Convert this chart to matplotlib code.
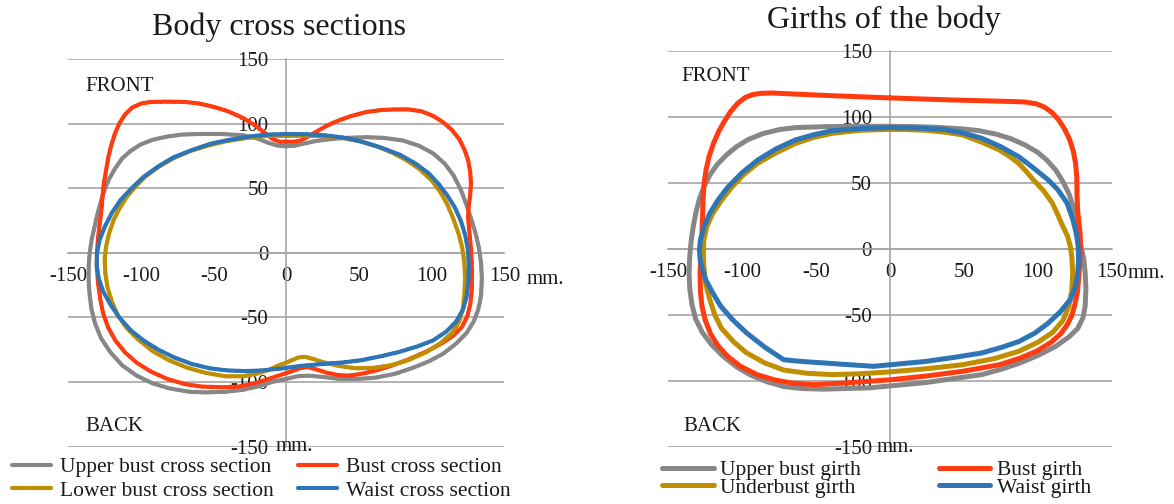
import matplotlib.pyplot as plt

plt.rcParams['font.family'] = ['Liberation Serif', 'DejaVu Serif']
plt.rcParams['axes.unicode_minus'] = False

# ---- left chart: body cross sections (mm), traced counter-clockwise from the front centre ----
upper_cs_x = [0, -6, -12, -20, -30, -45, -60, -72, -82, -92, -100, -107, -113, -118, -122, -125, -127.5,
              -130, -132, -134, -135.3, -136, -136, -135.3, -134, -131.5, -127.5, -121, -113, -103, -92,
              -80, -67, -55, -42, -30, -20, -10, 0, 8, 15, 25, 36, 50, 62, 75, 87, 98, 108, 117, 124,
              129, 132, 134, 134.5, 134, 132.5, 130, 127, 124, 120, 115, 109, 101, 91, 80, 67, 55, 42,
              30, 20, 12, 6, 0]
upper_cs_y = [82.5, 83, 85, 88.5, 91, 92, 92, 91.5, 90, 87.5, 84, 79, 73, 65, 57, 49, 40,
              30, 20, 10, 0, -10, -22, -33, -44, -55, -66, -77, -87, -95, -101,
              -105, -107.5, -108, -107.5, -106, -103.5, -100, -97.5, -95.5, -95, -96, -97.5, -97.5, -96.5,
              -93.5, -89, -84, -78, -70, -62,
              -53, -44, -33, -20, -8, 4, 16, 27, 37, 49, 60, 69, 77, 83, 87, 89, 89.5, 89,
              88, 86.5, 84.5, 83, 82.5]

bust_cs_x = [0, -5, -10, -15, -22, -30, -40, -50, -60, -70, -82, -93, -100, -106, -111, -115, -118,
             -120.5, -122.5, -124, -125.5, -126.5, -127, -127.5, -128.5, -129.5, -130.3, -130.3, -129.5,
             -128, -126, -122.5, -117.5, -111, -103, -93, -82, -70, -58, -45, -33, -22, -12, -4, 4, 10,
             15, 20, 27, 35, 42, 50, 60, 72, 85, 97, 107, 115, 121, 124.5, 126.5, 127.5, 127.8, 127.5,
             126.8, 125.8, 125, 125.5, 126.5, 127, 126.5, 125, 122.5, 119, 114, 108, 101, 93, 84, 74,
             65, 55, 45, 36, 28, 21, 15, 10, 5, 0]
bust_cs_y = [86, 86, 88.5, 93, 99, 104.5, 109.5, 113, 115.6, 116.8, 117, 116.8, 115.5, 112.5, 107, 100, 92,
             83, 74, 64, 54, 44, 36, 30, 22, 12, 0, -12, -24,
             -36, -47, -58, -68, -77, -85, -92, -97.5, -101.5, -103.5, -104, -103.5, -101, -97.5, -94.5,
             -91.5, -89,
             -88.5, -90, -92.5, -94.5, -95, -94, -91.5, -87.5, -82, -76, -70, -64, -57, -49, -40, -30, -18,
             -6,
             6, 18, 28, 36, 45, 54, 63, 72, 80, 88, 95, 101, 106, 109.5, 111, 111,
             110.5, 109, 106, 102.5, 98.5, 94, 90, 87, 86, 86]

lower_cs_x = [0, -10, -20, -30, -41, -54, -67, -78, -88, -97, -104, -110, -115, -119, -122, -124, -125,
              -124.5, -123, -120, -116, -110, -102, -92, -81, -68, -55, -42, -30, -20, -12, -5, 2, 8,
              13, 18, 25, 36, 48, 60, 72, 84, 96, 106, 114, 119, 121.5, 122.5, 123, 122.5, 121, 118.5,
              115, 111, 106, 100, 92, 83, 73, 62, 50, 38, 25, 12, 0]
lower_cs_y = [90.6, 90.6, 90, 88.5, 86.5, 83, 78.5, 73, 66.5, 59, 51, 43, 34, 25, 15, 5, -5,
              -16, -27, -38, -48, -58, -67, -76, -83, -89, -93, -95.5, -95.5, -93.5, -90.5, -87, -84, -81,
              -80.5, -82, -84.5, -87.5, -89.3, -89, -87, -83, -77, -70, -62, -53, -43, -32, -20, -8, 4, 15,
              26, 37, 47, 56, 64.5, 71.5, 77.5, 82.5, 86.5, 89, 90.3, 90.6, 90.6]

waist_cs_x = [0, -13, -26, -39, -52, -65, -77.5, -88, -98, -106, -114, -120, -125, -128.5, -130.3,
              -130.5, -129, -126, -121, -115, -107, -98, -88, -77, -65, -52, -40, -28, -17, -5, 10, 25,
              40, 52, 65, 77.5, 90, 101, 110, 117, 121.5, 124, 125.3, 125.5, 125, 123, 120, 116, 111,
              105, 98, 89, 78, 65, 52, 39, 26, 13, 0]
waist_cs_y = [91.9, 91.5, 90, 87.5, 84.5, 79.5, 74, 67, 59, 50.5, 41, 31, 20, 10, 0,
              -10, -20, -30, -40, -50, -60, -68, -75, -81, -86, -89.5, -91, -91.5, -91, -89.7, -87.5, -86,
              -84.7, -83, -80, -76.7, -72.5, -67.7, -61, -53, -44, -34, -22, -10, 2, 14, 25, 35, 44,
              53, 61.5, 69, 76, 81.5, 86, 89.3, 91, 91.8, 91.9]

# ---- right chart: girths of the body (mm) ----
upper_g_x = [0, -26.5, -45, -64, -75, -86, -96, -104, -111, -117, -122, -126, -129, -131.3, -133,
             -134.5, -135.5, -136, -135.5, -134, -131.5, -127, -121, -113, -104, -94, -83, -72, -60, -45,
             -30, -14, 5, 24, 43, 62, 75, 87, 100, 112, 121, 127, 130.5, 132, 132.5, 132, 131, 129,
             127.5, 126, 124, 121, 117, 112, 106, 99.6, 91, 82, 72, 60, 49, 30, 15, 0]
upper_g_y = [93, 93, 92.7, 92, 90.5, 87.5, 83, 77.5, 71, 64, 56, 47, 38, 28, 18,
             7, -5, -18, -30, -42, -53, -63, -72, -81, -89, -95.5, -100.5, -104, -105.5, -106,
             -105.5, -105, -103, -101, -98, -95, -91, -86.5, -80.5, -73.6, -66.5, -60, -52, -43, -30, -18,
             -7, 3, 12, 22, 32, 42, 51, 60, 67.5, 73.5, 79, 83.5, 87, 89.7, 91, 92.3, 92.8, 93]

bust_g_x = [0, -40, -70, -80, -87, -93, -98, -103, -108, -112, -116, -119.5, -122.5, -124.5, -125.8,
            -126.5, -127, -127.5, -128, -128.6, -128.3, -127.3, -125, -121.5, -116.5, -110, -101.5, -90,
            -78, -67, -52, -30, -1, 25, 49, 74, 88, 99.6, 109, 115.5, 120, 123, 125, 126.8, 127.8,
            128.5, 128.8, 128.6, 127.8, 127, 126.5, 126.3, 125.5, 124, 121.5, 118, 114, 109.5, 104.5,
            99, 92, 84.5, 40, 0]
bust_g_y = [114.5, 116.2, 117.7, 118.2, 118, 117, 114.8, 110.5, 104, 97, 89, 80, 70, 60, 50,
            38, 20, 5, -5, -18, -32, -43, -54, -64, -73, -81, -88.5, -95,
            -99, -101.3, -102.6, -101.3, -99, -96, -92.5, -87.5, -82.5, -77, -70.5, -64, -57, -50, -42,
            -32, -20,
            -8, 3, 12, 20, 28, 40, 55, 65, 74, 83, 91, 98, 103.5, 107.5,
            110, 111.3, 111.7, 113, 114.5]

under_g_x = [0, -20, -39, -52, -64, -77, -89.5, -99, -107, -114, -120, -124, -126, -126.3, -126,
             -124.8, -122, -118.5, -114, -106, -97, -85, -72, -56, -39, -20, -1, 25, 49, 70, 87, 100,
             110, 117, 121, 123, 123.5, 123, 122, 120, 117, 113.5, 109.7, 104, 97, 92, 87, 80.5, 74,
             62, 49, 36, 24, 12, 0]
under_g_y = [90.7, 90, 87.7, 84.5, 80, 73, 65, 56.5, 47, 37, 27, 17, 7, -3, -13,
             -26, -38, -50, -60, -70, -78.6, -86, -91.5, -94, -95, -94.3, -93, -90.5, -87.5, -83, -77.4,
             -70.5, -63, -54, -43, -31, -18, -6, 2, 10, 17, 26, 35, 44, 52.4, 59, 65, 70.5, 75,
             81, 86.5, 88.7, 90, 90.5, 90.7]

waist_g_x = [0, -20, -39, -52, -64, -77, -89.5, -100, -109.7, -116.5, -122, -125.8, -128.3, -129,
             -128.5, -127, -124.8, -120, -114.7, -106.5, -97, -85, -72, -60, -46.6, -30, -11, 5, 24, 43,
             62, 75, 87, 98, 107, 115.5, 122, 125.5, 127, 127.5, 127.3, 126, 123.5, 119.7, 113.5, 107,
             97, 87, 75, 62, 49, 36.5, 18, 0]
waist_g_y = [92, 91.3, 89.7, 86.5, 82.7, 76, 67.5, 58, 47, 37, 27, 17, 7, -1,
             -8, -15, -23, -33, -43, -53.5, -63.5, -74, -83.7, -85, -86, -87.3, -88.7, -87, -85, -82,
             -78.6, -74.5, -70, -63.5, -56, -47, -38, -28, -18, -8, 2, 12, 23, 35, 45, 52.4,
             61.5, 70, 77.5, 84, 88, 90.7, 91.7, 92]

ticks = [-150, -100, -50, 0, 50, 100, 150]
colors = ['#878787', '#ff3b0f', '#bf8f00', '#2e75b6']
grid_c = '#a6a6a6'
txt_c = '#1a1a1a'

fig = plt.figure(figsize=(11.74, 5.04), dpi=100)
ax1 = fig.add_axes([0.0582, 0.1137, 0.3714, 0.7692])
ax2 = fig.add_axes([0.5693, 0.1125, 0.3777, 0.7863])


def style_axes(ax):
    ax.set_xlim(-150, 150)
    ax.set_ylim(-150, 150)
    ax.set_xticks(ticks)
    ax.set_yticks(ticks)
    for s in ['top', 'right']:
        ax.spines[s].set_visible(False)
    ax.spines['left'].set_position(('data', 0))
    ax.spines['bottom'].set_position(('data', 0))
    for s in ['left', 'bottom']:
        ax.spines[s].set_color(grid_c)
        ax.spines[s].set_linewidth(1.2)
    ax.yaxis.grid(True, color=grid_c, lw=1.2)
    ax.set_axisbelow(True)
    ax.tick_params(axis='y', length=0, pad=13, labelsize=15, labelcolor=txt_c)
    ax.tick_params(axis='x', length=0, pad=10, labelsize=15, labelcolor=txt_c)
    ax.set_facecolor('none')


style_axes(ax1)
style_axes(ax2)

cs = [(upper_cs_x, upper_cs_y, 'Upper bust cross section'),
      (bust_cs_x, bust_cs_y, 'Bust cross section'),
      (lower_cs_x, lower_cs_y, 'Lower bust cross section'),
      (waist_cs_x, waist_cs_y, 'Waist cross section')]
h1 = []
for (x, y, lab), c in zip(cs, colors):
    ln, = ax1.plot(x, y, color=c, lw=3.0, ls=(0, (1.2, 0.35)), dash_capstyle='round',
                   label=lab, zorder=3)
    h1.append(ln)

gs = [(upper_g_x, upper_g_y, 'Upper bust girth'),
      (bust_g_x, bust_g_y, 'Bust girth'),
      (under_g_x, under_g_y, 'Underbust girth'),
      (waist_g_x, waist_g_y, 'Waist girth')]
h2 = []
for (x, y, lab), c in zip(gs, colors):
    ln, = ax2.plot(x, y, color=c, lw=3.6, solid_joinstyle='round', solid_capstyle='round',
                   label=lab, zorder=3)
    h2.append(ln)

# annotations
ax1.text(-138, 129, 'FRONT', fontsize=15, color=txt_c, va='center')
ax1.text(-138, -134.7, 'BACK', fontsize=15, color=txt_c, va='center')
ax1.text(165, -20.4, 'mm.', fontsize=15, color=txt_c, va='center')
ax1.text(-7.5, -150, 'mm.', fontsize=15, color=txt_c, va='center')

ax2.text(-141.4, 131, 'FRONT', fontsize=15, color=txt_c, va='center')
ax2.text(-140, -134.6, 'BACK', fontsize=15, color=txt_c, va='center')
ax2.text(160.5, -18.4, 'mm.', fontsize=15, color=txt_c, va='center')
ax2.text(-9, -150, 'mm.', fontsize=15, color=txt_c, va='center')

fig.text(279 / 1174, 1 - 27 / 504, 'Body cross sections', fontsize=23, color=txt_c,
         ha='center', va='center')
fig.text(884 / 1174, 1 - 20 / 504, 'Girths of the body', fontsize=23, color=txt_c,
         ha='center', va='center')

fig.legend([h1[0], h1[2], h1[1], h1[3]],
           [h.get_label() for h in [h1[0], h1[2], h1[1], h1[3]]],
           loc='center left', bbox_to_anchor=(12 / 1174, 25 / 504), ncol=2, frameon=False,
           fontsize=15.5, handlelength=1.8, handletextpad=0.45, columnspacing=1.1,
           labelspacing=0.15, borderpad=0, borderaxespad=0, labelcolor=txt_c)
fig.legend([h2[0], h2[2], h2[1], h2[3]],
           [h.get_label() for h in [h2[0], h2[2], h2[1], h2[3]]],
           loc='center left', bbox_to_anchor=(662 / 1174, 25 / 504), ncol=2, frameon=False,
           fontsize=15.5, handlelength=2.4, handletextpad=0.3, columnspacing=3.6,
           labelspacing=-0.1, borderpad=0, borderaxespad=0, labelcolor=txt_c)

fig.savefig('out.png', dpi=100)
